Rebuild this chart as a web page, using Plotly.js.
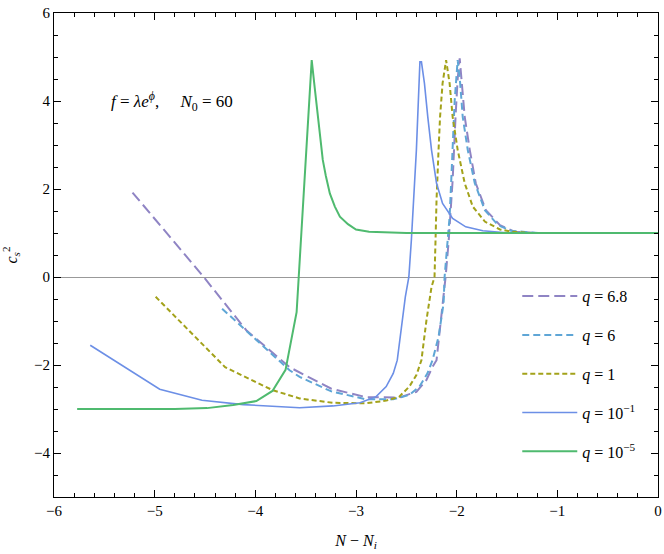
<!DOCTYPE html>
<html>
<head>
<meta charset="utf-8">
<script src="https://cdn.plot.ly/plotly-3.0.1.min.js"></script>
<style>html,body{margin:0;padding:0;background:#fff;}#chart{width:664px;height:554px;}</style>
</head>
<body>
<div id="chart"></div>
<script>
// q = 6.8
const x68 = [-5.22, -4.87, -4.52, -4.09, -3.66, -3.245, -2.90, -2.57, -2.40, -2.30, -2.24, -2.20, -2.15, -2.11, -2.08, -2.04, -2.01, -1.99, -1.97, -1.95, -1.92, -1.87, -1.81, -1.71, -1.57, -1.43, -1.19, 0];
const y68 = [1.92, 0.97, 0.02, -1.21, -2.05, -2.54, -2.73, -2.74, -2.61, -2.34, -2.04, -1.89, -0.91, 0, 0.8, 2.2, 3.7, 4.5, 4.97, 4.4, 3.64, 2.89, 2.13, 1.52, 1.18, 1.03, 1.0, 1.0];
// q = 6
const x6 = [-4.33, -4.02, -3.66, -3.56, -3.245, -2.90, -2.63, -2.47, -2.37, -2.29, -2.24, -2.18, -2.13, -2.12, -2.09, -2.07, -2.055, -2.04, -2.02, -1.99, -1.965, -1.94, -1.89, -1.82, -1.72, -1.59, -1.46, -1.19, 0];
const y6 = [-0.72, -1.36, -2.12, -2.27, -2.60, -2.78, -2.78, -2.68, -2.49, -2.19, -1.89, -1.36, -0.6, 0, 0.84, 1.37, 2.13, 2.89, 4.0, 4.93, 4.4, 3.64, 2.89, 2.13, 1.52, 1.18, 1.05, 1.0, 1.0];
// q = 1
const x1 = [-4.99, -4.30, -3.83, -3.56, -3.23, -2.90, -2.70, -2.57, -2.47, -2.40, -2.35, -2.30, -2.25, -2.22, -2.21, -2.20, -2.18, -2.165, -2.14, -2.105, -2.07, -2.04, -1.99, -1.92, -1.84, -1.72, -1.57, -1.45, -1.26, 0];
const y1 = [-0.45, -2.05, -2.57, -2.76, -2.86, -2.87, -2.81, -2.72, -2.49, -2.23, -1.89, -0.98, -0.23, 0, 0.84, 1.75, 2.89, 3.64, 4.4, 4.93, 4.4, 3.64, 2.89, 2.13, 1.6, 1.26, 1.08, 1.03, 1.0, 1.0];
// q = 1e-1
const xm1 = [-5.64, -4.95, -4.53, -4.12, -3.56, -3.23, -2.96, -2.80, -2.70, -2.63, -2.59, -2.56, -2.51, -2.475, -2.45, -2.40, -2.38, -2.365, -2.35, -2.32, -2.287, -2.25, -2.20, -2.14, -2.04, -1.91, -1.74, -1.48, 0];
const ym1 = [-1.55, -2.55, -2.80, -2.90, -2.97, -2.93, -2.86, -2.72, -2.49, -2.19, -1.89, -1.36, -0.45, 0, 0.84, 2.89, 4.1, 4.89, 4.89, 4.4, 3.64, 2.89, 2.13, 1.67, 1.33, 1.14, 1.05, 1.0, 1.0];
// q = 1e-5
const xm5 = [-5.77, -4.8, -4.48, -4.22, -3.99, -3.83, -3.70, -3.59, -3.57, -3.44, -3.41, -3.38, -3.355, -3.33, -3.30, -3.26, -3.21, -3.16, -3.08, -3.0, -2.87, -2.7, -2.5, 0];
const ym5 = [-3.0, -3.0, -2.98, -2.91, -2.82, -2.59, -2.11, -0.8, -0.04, 4.93, 4.3, 3.64, 3.1, 2.66, 2.3, 1.9, 1.6, 1.37, 1.2, 1.08, 1.03, 1.01, 1.0, 1.0];

const names = ['<i>q</i> = 6.8', '<i>q</i> = 6', '<i>q</i> = 1', '<i>q</i> = 10<sup>−1</sup>', '<i>q</i> = 10<sup>−5</sup>'];

const serif = 'Liberation Serif';

const traces = [
  {x: x68, y: y68, name: names[0], line: {color: '#8f84c4', width: 2, dash: '11px,5px'}},
  {x: x6, y: y6, name: names[1], line: {color: '#5fa6d6', width: 2, dash: '7px,4px'}},
  {x: x1, y: y1, name: names[2], line: {color: '#a3a21a', width: 2, dash: '5px,3px'}},
  {x: xm1, y: ym1, name: names[3], line: {color: '#6c8fe6', width: 1.6}},
  {x: xm5, y: ym5, name: names[4], line: {color: '#4fba6f', width: 2}}
].map((t, i) => Object.assign({type: 'scatter', mode: 'lines', legendgroup: 'g' + i}, t));

function axis(extra) {
  return Object.assign({
    showgrid: false,
    showline: true,
    linecolor: 'black',
    linewidth: 1,
    mirror: 'allticks',
    ticks: 'inside',
    ticklen: 7,
    tickwidth: 1,
    tickcolor: 'black',
    tickfont: {family: serif, size: 15, color: 'black'},
    zeroline: false
  }, extra);
}

const layout = {
  width: 664,
  height: 554,
  margin: {l: 54, r: 6, t: 13, b: 57},
  showlegend: true,
  legend: {
    x: 0.767, y: 0.45, xanchor: 'left', yanchor: 'top',
    font: {family: serif, size: 16, color: 'black'},
    itemwidth: 55,
    tracegroupgap: 15,
    bgcolor: 'rgba(0,0,0,0)'
  },
  xaxis: axis({
    range: [-6, 0],
    dtick: 1,
    minor: {dtick: 0.2, ticks: 'inside', ticklen: 4, tickwidth: 1, tickcolor: 'black'},
    title: {text: '<i>N</i> − <i>N<sub>i</sub></i>', font: {family: serif, size: 16, color: 'black'}, standoff: 16}
  }),
  yaxis: axis({
    range: [-5, 6],
    dtick: 2,
    minor: {dtick: 0.5, ticks: 'inside', ticklen: 4, tickwidth: 1, tickcolor: 'black'},
    zeroline: true,
    zerolinecolor: '#999',
    title: {text: '<i>c</i><sub><i>s</i></sub><sup>2</sup>', font: {family: serif, size: 16, color: 'black'}, standoff: 16}
  }),
  annotations: [{
    xref: 'x', yref: 'y', x: -5.45, y: 4.0, xanchor: 'left', yanchor: 'middle',
    text: '<i>f</i> = <i>λe</i><sup><i>ϕ</i></sup>,     <i>N</i><sub>0</sub> = 60',
    showarrow: false,
    font: {family: serif, size: 17, color: 'black'}
  }]
};

Plotly.newPlot('chart', traces, layout, {displayModeBar: false});
</script>
</body>
</html>
